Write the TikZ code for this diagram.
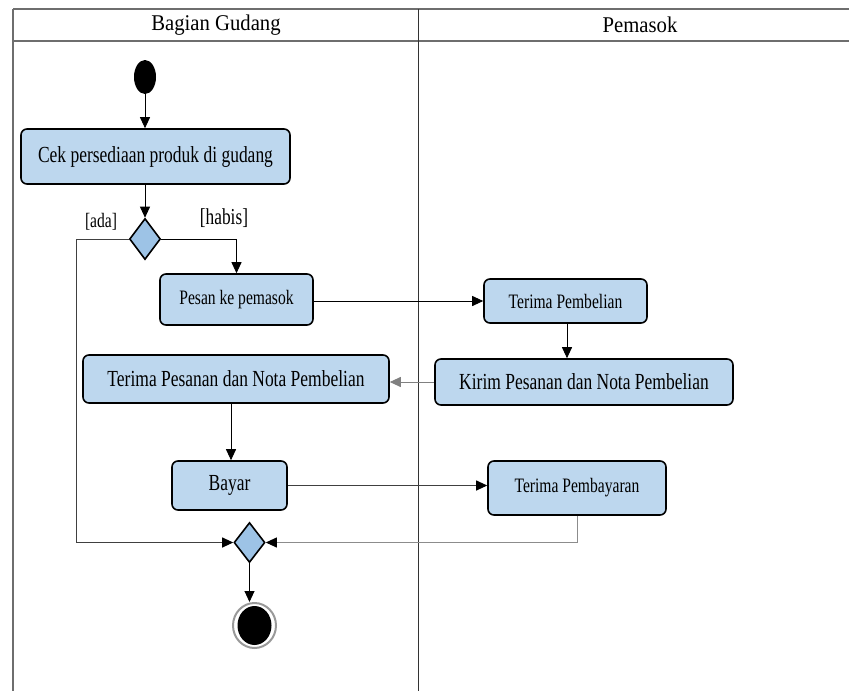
\documentclass[tikz,border=0pt]{standalone}
\usepackage{fontspec}
\setmainfont{Liberation Serif}
\newfontfamily\boxfont[FakeStretch=0.76]{Liberation Serif}
\newfontfamily\headfont[FakeStretch=0.92]{Liberation Serif}
\usetikzlibrary{shapes.geometric,arrows.meta}
\definecolor{actfill}{HTML}{BDD7EE}
\definecolor{decfill}{HTML}{9DC3E6}
\definecolor{framegray}{HTML}{6E6E6E}
\begin{document}
\begin{tikzpicture}[x=1pt,y=-1pt,
  act/.style={draw=black, line width=1.6pt, fill=actfill, rounded corners=6pt, inner sep=0pt, align=center},
  bigtxt/.style={font=\boxfont\fontsize{23}{25}\selectfont},
  smalltxt/.style={font=\boxfont\fontsize{20.5}{23}\selectfont},
  headtxt/.style={font=\headfont\fontsize{22.5}{25}\selectfont},
  dec/.style={shape=diamond, draw=black, line width=1.6pt, fill=decfill, inner sep=0pt, minimum width=31pt, minimum height=41pt},
  flow/.style={draw=black, line width=0.9pt, -{Triangle[length=11pt,width=10pt]}},
  flowgray/.style={draw=black!50, line width=1pt, -{Triangle[length=11pt,width=10pt]}},
  flowmix/.style={draw=black!45, line width=1pt, -{Triangle[length=11pt,width=10pt,color=black]}},
  flowdark/.style={draw=black!75, line width=1pt, -{Triangle[length=11pt,width=10pt,color=black]}}
]
\useasboundingbox (0,0) rectangle (849,691);
% swimlane frame
\draw[framegray, line width=2pt] (13,9) -- (849,9);
\draw[framegray, line width=2pt] (13,41) -- (849,41);
\draw[framegray, line width=1.5pt] (13,9) -- (13,691);
\draw[black!80, line width=1pt] (418,9) -- (418,691);
\node[headtxt] (lane1) at (216,25) {Bagian Gudang};
\node[headtxt] (lane2) at (640,25) {Pemasok};
% nodes
\node[shape=ellipse, fill=black, minimum width=22pt, minimum height=34pt, inner sep=0pt] (start) at (145,77) {};
\node[act, bigtxt, minimum width=269pt, minimum height=55pt] (cek) at (155.5,156.5) {Cek persediaan produk di gudang};
\node[dec] (d1) at (145,239) {};
\node[smalltxt] (ada) at (101,222) {[ada]};
\node[font=\boxfont\fontsize{22.8}{25}\selectfont] (habis) at (224,218) {[habis]};
\node[act, smalltxt, minimum width=153pt, minimum height=51pt] (pesan) at (236.5,299.5) {Pesan ke pemasok};
\node[act, smalltxt, minimum width=163pt, minimum height=44pt] (tpbel) at (565.5,301) {Terima Pembelian};
\node[act, bigtxt, minimum width=298pt, minimum height=46pt] (kirim) at (584,382) {Kirim Pesanan dan Nota Pembelian};
\node[act, bigtxt, minimum width=306pt, minimum height=48pt] (tpes) at (236,379) {Terima Pesanan dan Nota Pembelian};
\node[act, bigtxt, minimum width=115pt, minimum height=49pt] (bayar) at (229.5,485.5) {Bayar};
\node[act, smalltxt, minimum width=178pt, minimum height=54pt] (tpbay) at (577,488) {Terima Pembayaran};
\node[dec, minimum height=40pt] (d2) at (249.5,542.5) {};
\node[shape=ellipse, draw=black!40, line width=2pt, fill=white, minimum width=43pt, minimum height=45pt, inner sep=0pt] (endo) at (254.5,625.5) {};
\node[shape=ellipse, fill=black, minimum width=34pt, minimum height=39pt, inner sep=0pt] (endi) at (254.5,625.5) {};
\coordinate (adaK) at (76,542.5);
% connectors
\draw[flow] (start) -- (start |- cek.north);
\draw[flow] (d1 |- cek.south) -- (d1.north);
\draw[flow] (d1.east) -| (pesan.north);
\draw[flowdark] (d1.west) -| (adaK) -- (d2.west);
\draw[flow] (pesan.east |- tpbel.west) -- (tpbel.west);
\draw[flow] (tpbel.south -| 567,0) -- (kirim.north -| 567,0);
\draw[flowgray] (kirim.west) -- (kirim.west -| tpes.east);
\draw[flow] (tpes.south -| 231,0) -- (bayar.north -| 231,0);
\draw[flowdark] (bayar.east) -- (bayar.east -| tpbay.west);
\draw[flowmix] (tpbay.south) |- (d2.east);
\draw[flow] (d2.south) -- (d2.south |- endo.north);
\end{tikzpicture}
\end{document}
